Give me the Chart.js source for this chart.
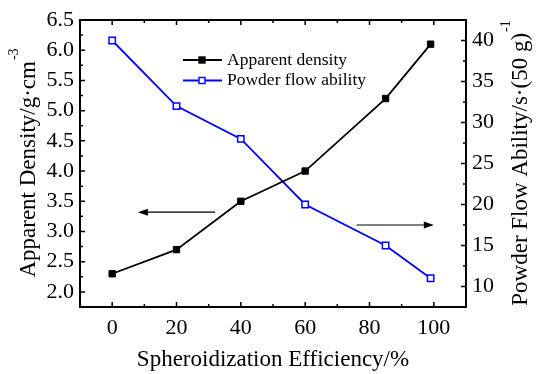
<!DOCTYPE html>
<html>
<head>
<meta charset="utf-8">
<script src="https://cdn.jsdelivr.net/npm/chart.js@4.4.0/dist/chart.umd.min.js"></script>
<style>
  html, body { margin: 0; padding: 0; background: #fff; }
  #wrap { width: 540px; height: 374px; }
</style>
</head>
<body>
<div id="wrap"><canvas id="c"></canvas></div>
<script>
const efficiency = [0, 20, 40, 60, 85, 99];
const apparentDensity = [2.3, 2.7, 3.5, 4.0, 5.2, 6.1];
const flowAbility = [40, 32, 28, 20, 15, 11];
const xTicks = [0, 20, 40, 60, 80, 100];
const densityTicks = [2.0, 2.5, 3.0, 3.5, 4.0, 4.5, 5.0, 5.5, 6.0, 6.5];
const flowTicks = [10, 15, 20, 25, 30, 35, 40];

const FONT = '"Liberation Serif", "Times New Roman", serif';

// midpoints between majors (plus one step beyond each end) for minor ticks
function minors(arr) {
  const step = arr[1] - arr[0];
  const out = [arr[0] - step / 2];
  for (let i = 0; i < arr.length - 1; i++) out.push((arr[i] + arr[i + 1]) / 2);
  out.push(arr[arr.length - 1] + step / 2);
  return out;
}

function drawRotatedTitle(ctx, x, y, main, sup, size) {
  ctx.save();
  ctx.translate(x, y);
  ctx.rotate(-Math.PI / 2);
  ctx.font = size + 'px ' + FONT;
  const w1 = ctx.measureText(main).width;
  ctx.font = Math.round(size * 0.6) + 'px ' + FONT;
  const w2 = ctx.measureText(sup).width;
  const start = -(w1 + w2) / 2;
  ctx.fillStyle = '#000';
  ctx.textBaseline = 'alphabetic';
  ctx.textAlign = 'left';
  ctx.font = size + 'px ' + FONT;
  ctx.fillText(main, start, size * 0.33);
  ctx.font = Math.round(size * 0.6) + 'px ' + FONT;
  ctx.fillText(sup, start + w1 + 1, -size * 0.4);
  ctx.restore();
}

function arrow(ctx, x1, y, x2) {
  const dir = Math.sign(x2 - x1);
  ctx.save();
  ctx.strokeStyle = '#000';
  ctx.fillStyle = '#000';
  ctx.lineWidth = 1.2;
  ctx.beginPath();
  ctx.moveTo(x1, y);
  ctx.lineTo(x2 - dir * 8, y);
  ctx.stroke();
  ctx.beginPath();
  ctx.moveTo(x2, y);
  ctx.lineTo(x2 - dir * 10, y - 3.5);
  ctx.lineTo(x2 - dir * 10, y + 3.5);
  ctx.closePath();
  ctx.fill();
  ctx.restore();
}

const decor = {
  id: 'decor',
  afterDraw(chart) {
    const ctx = chart.ctx;
    const a = chart.chartArea;
    const sx = chart.scales.x, sy = chart.scales.y, sy2 = chart.scales.y2;
    ctx.save();
    ctx.strokeStyle = '#000';

    // ticks, pointing inward
    ctx.lineWidth = 1.5;
    ctx.beginPath();
    const tick = (x1, y1, x2, y2) => { ctx.moveTo(x1, y1); ctx.lineTo(x2, y2); };
    xTicks.forEach(v => { const p = sx.getPixelForValue(v); tick(p, a.bottom, p, a.bottom - 5); tick(p, a.top, p, a.top + 5); });
    minors(xTicks).forEach(v => { const p = sx.getPixelForValue(v); if (p > a.left && p < a.right) { tick(p, a.bottom, p, a.bottom - 3); tick(p, a.top, p, a.top + 3); } });
    densityTicks.forEach(v => { const p = sy.getPixelForValue(v); tick(a.left, p, a.left + 5, p); });
    minors(densityTicks).forEach(v => { const p = sy.getPixelForValue(v); if (p > a.top && p < a.bottom) tick(a.left, p, a.left + 3, p); });
    flowTicks.forEach(v => { const p = sy2.getPixelForValue(v); tick(a.right, p, a.right - 5, p); });
    minors(flowTicks).forEach(v => { const p = sy2.getPixelForValue(v); if (p > a.top && p < a.bottom) tick(a.right, p, a.right - 3, p); });
    ctx.stroke();

    // frame
    ctx.lineWidth = 2;
    ctx.strokeRect(a.left, a.top, a.right - a.left, a.bottom - a.top);

    // axis titles
    const midY = (a.top + a.bottom) / 2;
    drawRotatedTitle(ctx, 27, midY, 'Apparent Density/g\u00b7cm', '-3', 23);
    drawRotatedTitle(ctx, 519, midY, 'Powder Flow Ability/s\u00b7(50 g)', '-1', 23);
    ctx.font = '23px ' + FONT;
    ctx.fillStyle = '#000';
    ctx.textAlign = 'center';
    ctx.textBaseline = 'middle';
    ctx.fillText('Spheroidization Efficiency/%', (a.left + a.right) / 2, 360);

    // legend
    ctx.font = '17.5px ' + FONT;
    ctx.textAlign = 'left';
    chart.data.datasets.forEach((ds, i) => {
      const y = 60 + i * 20.5;
      ctx.strokeStyle = ds.borderColor;
      ctx.lineWidth = 1.8;
      ctx.beginPath(); ctx.moveTo(183, y); ctx.lineTo(222, y); ctx.stroke();
      ctx.fillStyle = ds.pointBackgroundColor;
      ctx.fillRect(199, y - 3, 6, 6);
      ctx.lineWidth = 1.4;
      ctx.strokeStyle = ds.pointBorderColor;
      ctx.strokeRect(199, y - 3, 6, 6);
      ctx.fillStyle = '#000';
      ctx.fillText(ds.label, 227, y);
    });

    // arrows pointing to the relevant axis
    arrow(ctx, sx.getPixelForValue(32), sy.getPixelForValue(3.32), sx.getPixelForValue(8));
    arrow(ctx, sx.getPixelForValue(76), sy2.getPixelForValue(17.5), sx.getPixelForValue(100));
    ctx.restore();
  }
};

const tickFont = { family: FONT, size: 22 };

new Chart(document.getElementById('c'), {
  type: 'line',
  data: {
    datasets: [
      {
        label: 'Apparent density',
        data: efficiency.map((x, i) => ({ x: x, y: apparentDensity[i] })),
        yAxisID: 'y',
        borderColor: '#000',
        borderWidth: 1.8,
        pointStyle: 'rect',
        pointRadius: 4.5,
        pointBackgroundColor: '#000',
        pointBorderColor: '#000',
        pointBorderWidth: 1,
        tension: 0,
      },
      {
        label: 'Powder flow ability',
        data: efficiency.map((x, i) => ({ x: x, y: flowAbility[i] })),
        yAxisID: 'y2',
        borderColor: '#0000ff',
        borderWidth: 1.8,
        pointStyle: 'rect',
        pointRadius: 4.5,
        pointBackgroundColor: '#fff',
        pointBorderColor: '#0000ff',
        pointBorderWidth: 1.5,
        tension: 0,
      },
    ],
  },
  options: {
    responsive: true,
    maintainAspectRatio: false,
    animation: false,
    layout: { padding: { top: 20, left: 0, right: 0, bottom: 0 } },
    plugins: { legend: { display: false }, tooltip: { enabled: false } },
    scales: {
      x: {
        type: 'linear',
        min: -10,
        max: 110,
        afterBuildTicks: s => { s.ticks = xTicks.map(v => ({ value: v })); },
        afterFit: s => { s.height = 67; },
        grid: { display: false, drawTicks: false },
        border: { display: false },
        ticks: { font: tickFont, color: '#000', padding: 8, maxRotation: 0 },
      },
      y: {
        position: 'left',
        min: 1.75,
        max: 6.5,
        afterBuildTicks: s => { s.ticks = densityTicks.map(v => ({ value: v })); },
        afterFit: s => { s.width = 80; },
        grid: { display: false, drawTicks: false },
        border: { display: false },
        ticks: { font: tickFont, color: '#000', padding: 6, callback: v => v.toFixed(1) },
      },
      y2: {
        position: 'right',
        min: 7.5,
        max: 42.5,
        afterBuildTicks: s => { s.ticks = flowTicks.map(v => ({ value: v })); },
        afterFit: s => { s.width = 74; },
        grid: { display: false, drawTicks: false },
        border: { display: false },
        ticks: { font: tickFont, color: '#000', padding: 6 },
      },
    },
  },
  plugins: [decor],
});
</script>
</body>
</html>
